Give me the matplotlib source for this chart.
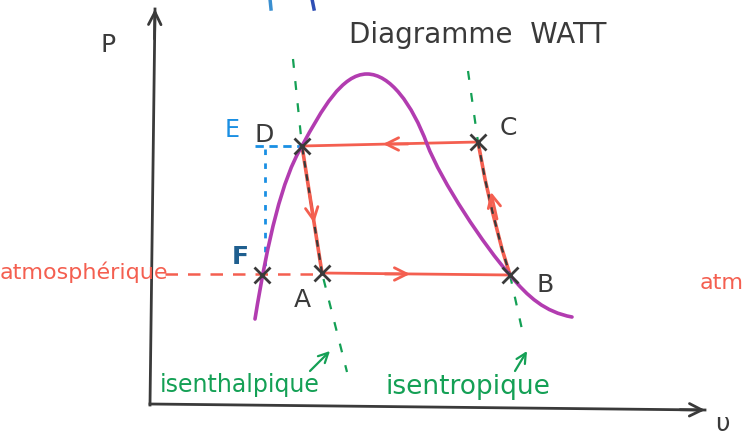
import matplotlib.pyplot as plt
import numpy as np
from matplotlib.path import Path
from matplotlib.patches import PathPatch

# state points on the P-v sketch (x = volume, y = pressure, screen units)
point_names = ["D", "C", "B", "A", "F"]
point_x = [302, 478, 510, 322, 262]
point_y = [147, 143, 276, 274, 276]

# saturation dome as cubic Bezier pieces (start, then ctrl, ctrl, end ...)
dome_verts = [(255, 320),
              (268, 240), (282, 180), (302, 147),
              (322, 110), (342, 75), (367, 75),
              (390, 75), (412, 105), (427, 145),
              (441, 182), (485, 248), (510, 276),
              (528, 298), (545, 313), (572, 318)]

# compression C <- B (slightly curved)
cb_x = [478, 485, 493, 502, 510]
cb_y = [143, 180, 215, 250, 276]

# green guide lines
isenth_x = [293, 302, 322, 347]
isenth_y = [60, 147, 274, 373]
isentr_top_x = [468, 478]
isentr_top_y = [72, 143]
isentr_bot_x = [510, 523]
isentr_bot_y = [276, 335]

# blue construction lines (E, F)
e_x = [255, 302]
e_y = [147, 147]
f_x = [265, 265]
f_y = [150, 267]

atm_y = 275

RED = "#f45f50"
PURPLE = "#b23cb0"
GREEN = "#14a055"
BLUE = "#1a8fe3"
INK = "#3a3a3a"

fig = plt.figure(figsize=(7.47, 4.39), dpi=100)
ax = fig.add_axes([0, 0, 1, 1])
ax.set_xlim(0, 747)
ax.set_ylim(439, 0)
ax.axis("off")


def chevron(x0, y0, x1, y1, color, lw=2, size=0.9):
    ax.annotate("", xy=(x1, y1), xytext=(x0, y0),
                arrowprops=dict(arrowstyle=f"->,head_length={size},head_width={size * 0.5}",
                                color=color, lw=lw, shrinkA=0, shrinkB=0))


def on_segment(p, q, y):
    # x of the straight line p-q at height y
    t = (y - p[1]) / (q[1] - p[1])
    return p[0] + t * (q[0] - p[0])


# axes of the diagram
ax.plot([150, 155], [406, 10], color=INK, lw=2)
chevron(154.5, 40, 155, 10, INK)
ax.plot([150, 705], [405, 411], color=INK, lw=2)
chevron(680, 410.7, 705, 411, INK)
ax.text(108, 45, "P", fontsize=18, color=INK, ha="center", va="center")
ax.text(722, 424, "υ", fontsize=18, color=INK, ha="center", va="center")

ax.text(478, 35, "Diagramme  WATT", fontsize=20, color=INK, ha="center",
        va="center")

# blue strokes at the top edge
ax.plot([270, 271], [0, 10], color="#3a8fd0", lw=2.5)
ax.plot([312, 314], [0, 10], color="#2f4fb5", lw=2.5)

# green isenthalpic / isentropic guides
ax.plot(isenth_x, isenth_y, color=GREEN, lw=1.6, ls=(0, (4, 6)))
ax.plot(isentr_top_x, isentr_top_y, color=GREEN, lw=1.6, ls=(0, (4, 6)))
ax.plot(isentr_bot_x, isentr_bot_y, color=GREEN, lw=1.6, ls=(0, (4, 6)))

# atmospheric pressure line
ax.plot([165, point_x[3]], [atm_y, atm_y], color=RED, lw=1.8, ls=(0, (5, 4)))
ax.text(0, 272, "atmosphérique", fontsize=16, color=RED, ha="left", va="center")
ax.text(700, 283, "atm", fontsize=16, color=RED, ha="left", va="center")

# blue E / F construction
ax.plot(e_x, e_y, color=BLUE, lw=2, ls=(0, (3, 2)))
ax.plot(f_x, f_y, color=BLUE, lw=2, ls=(0, (2, 3)))
ax.text(232, 130, "E", fontsize=17, color=BLUE, ha="center", va="center")
ax.text(240, 257, "F", fontsize=18, color="#1f5f8f", ha="center", va="center",
        fontweight="bold")

# cycle
D, C, B, A = [(point_x[i], point_y[i]) for i in range(4)]
ax.plot([D[0], C[0]], [D[1], C[1]], color=RED, lw=2)
ax.plot(cb_x, cb_y, color=RED, lw=2.6)
ax.plot(cb_x, cb_y, color=INK, lw=1.6, ls=(0, (3, 3)))
ax.plot([B[0], A[0]], [B[1], A[1]], color=RED, lw=2)
ax.plot([A[0], D[0]], [A[1], D[1]], color=RED, lw=2.6)
ax.plot([A[0], D[0]], [A[1], D[1]], color=INK, lw=1.6, ls=(0, (3, 3)))

chevron(408, 145, 383, 145, RED)
chevron(385, 275, 410, 275, RED)
chevron(on_segment(A, D, 195), 195, on_segment(A, D, 224), 224, RED)
chevron(497, 220, 491, 193, RED)

# saturation dome
codes = [Path.MOVETO] + [Path.CURVE4] * (len(dome_verts) - 1)
ax.add_patch(PathPatch(Path(dome_verts, codes), facecolor="none",
                       edgecolor=PURPLE, lw=2.6, capstyle="round", zorder=3))

ax.plot(point_x, point_y, ls="none", marker="x", ms=11, mew=2, color=INK,
        zorder=4)

label_pos = {"D": (264, 135), "C": (508, 128), "B": (545, 285), "A": (302, 300)}
for name, (lx, ly) in label_pos.items():
    ax.text(lx, ly, name, fontsize=18, color=INK, ha="center", va="center")

# green annotations
ax.text(160, 385, "isenthalpique", fontsize=17, color=GREEN, ha="left",
        va="center")
ax.text(385, 387, "isentropique", fontsize=19, color=GREEN, ha="left",
        va="center")
chevron(310, 372, 330, 352, GREEN, lw=1.6, size=0.7)
chevron(515, 372, 527, 352, GREEN, lw=1.6, size=0.7)

fig.savefig("out.png", dpi=100)
